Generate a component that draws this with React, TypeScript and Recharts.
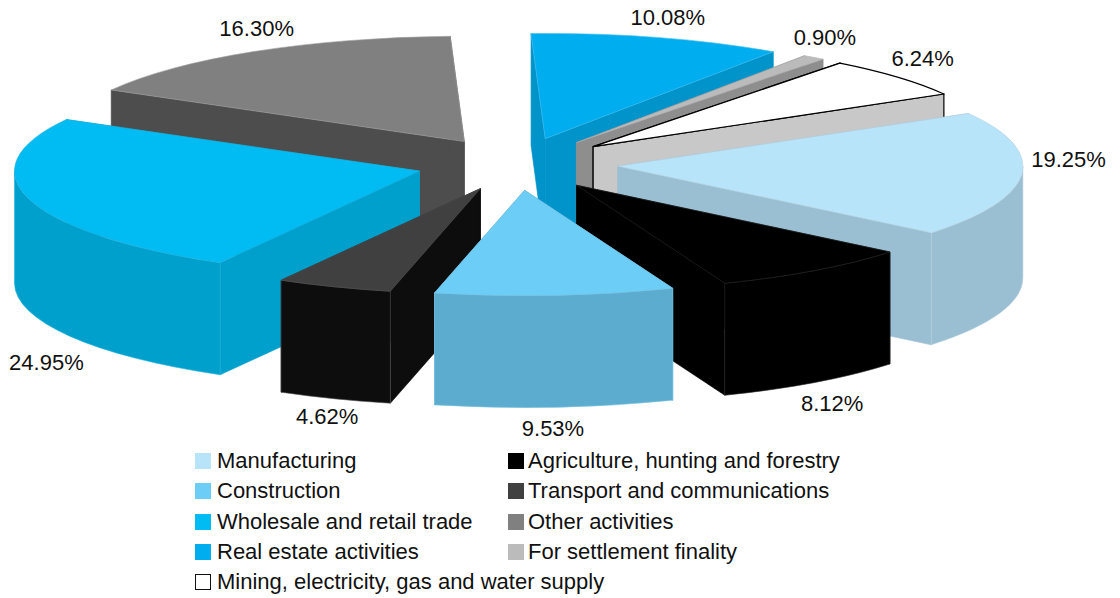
import React from "react";
import { PieChart, Pie, Legend } from "recharts";

const names = [
  "Manufacturing",
  "Agriculture, hunting and forestry",
  "Construction",
  "Transport and communications",
  "Wholesale and retail trade",
  "Other activities",
  "Real estate activities",
  "For settlement finality",
  "Mining, electricity, gas and water supply",
];
const shares = [19.25, 8.12, 9.53, 4.62, 24.95, 16.3, 10.08, 0.9, 6.24];
const topColors = ["#B8E4FA", "#000000", "#6CCDF6", "#404040", "#00BCF2", "#808080", "#00AEEF", "#BBBBBB", "#FFFFFF"];
const sideColors = ["#9ABFD2", "#000000", "#5BACCE", "#0D0D0D", "#00A0CD", "#4D4D4D", "#0094CB", "#8E8E8E", "#C8C8C8"];
const edgeColors = ["#B8D4E2", "#2A2A2A", "#7CC4E4", "#555555", "#20B0DC", "#A0A0A0", "#40BCEC", "#AAAAAA", "#000000"];
const legendColors = ["#B8E4FA", "#000000", "#6CCDF6", "#404040", "#00BCF2", "#808080", "#00AEEF", "#BBBBBB", "#FFFFFF"];
const paintOrder = [5, 6, 7, 8, 4, 0, 3, 1, 2];
const labelNudgeX = [47, 17, -2, -7, 17, 3, 10, 11, 25];
const labelNudgeY = [-15, 133, 133, 130, 163, -23, -20, -20, -19];

const SQUASH = 0.26;
const EXPLODE = 0.25;
const DEPTH = 112;
const FONT = '"Liberation Sans", Arial, sans-serif';

const data = names.map((name, i) => ({ name, value: shares[i] }));
const rad = (d: number) => (d * Math.PI) / 180;

function project(cx: number, cy: number, r: number, deg: number) {
  return { x: cx + r * Math.cos(rad(deg)), y: cy - r * SQUASH * Math.sin(rad(deg)) };
}

function Wedge({ p, i }: { p: any; i: number }) {
  const mid = (p.startAngle + p.endAngle) / 2;
  const r = p.outerRadius;
  const apex = project(p.cx, p.cy, r * EXPLODE, mid);
  const a = project(apex.x, apex.y, r, p.startAngle);
  const b = project(apex.x, apex.y, r, p.endAngle);
  const rx = r;
  const ry = r * SQUASH;
  const top = `M${apex.x},${apex.y}L${a.x},${a.y}A${rx},${ry} 0 0 1 ${b.x},${b.y}Z`;
  const wall = (q: { x: number; y: number }) =>
    `M${apex.x},${apex.y}L${q.x},${q.y}L${q.x},${q.y + DEPTH}L${apex.x},${apex.y + DEPTH}Z`;
  const lo = Math.max(p.endAngle, -180);
  const hi = Math.min(p.startAngle, 0);
  let side: string | null = null;
  if (hi > lo) {
    const s = project(apex.x, apex.y, r, hi);
    const e = project(apex.x, apex.y, r, lo);
    side = `M${s.x},${s.y}A${rx},${ry} 0 0 1 ${e.x},${e.y}L${e.x},${e.y + DEPTH}A${rx},${ry} 0 0 0 ${s.x},${s.y + DEPTH}Z`;
  }
  const sw = i === 8 ? 1.2 : 0.6;
  return (
    <g>
      <path d={wall(a)} fill={sideColors[i]} stroke={i === 8 ? edgeColors[i] : sideColors[i]} strokeWidth={sw} />
      <path d={wall(b)} fill={sideColors[i]} stroke={i === 8 ? edgeColors[i] : sideColors[i]} strokeWidth={sw} />
      {side && <path d={side} fill={sideColors[i]} stroke={edgeColors[i]} strokeWidth={0.6} />}
      <path d={top} fill={topColors[i]} stroke={edgeColors[i]} strokeWidth={sw} strokeLinejoin="round" />
    </g>
  );
}

function renderLabel(p: any) {
  const i = names.indexOf(p.name ?? p.payload?.name);
  const mid = p.midAngle;
  const apex = project(p.cx, p.cy, p.outerRadius * EXPLODE, mid);
  const o = project(apex.x, apex.y, p.outerRadius, mid);
  return (
    <text
      x={o.x + labelNudgeX[i]}
      y={o.y + labelNudgeY[i]}
      textAnchor="middle"
      dominantBaseline="central"
      fontFamily={FONT}
      fontSize={22}
      fill="#111111"
    >
      {shares[i].toFixed(2)}%
    </text>
  );
}

function LegendBlock() {
  return (
    <div
      style={{
        display: "grid",
        gridTemplateColumns: "313px 400px",
        gridAutoRows: "30.3px",
        fontFamily: FONT,
        fontSize: 22,
        color: "#111111",
      }}
    >
      {names.map((n, i) => (
        <div
          key={n}
          style={{
            display: "flex",
            alignItems: "center",
            whiteSpace: "nowrap",
            gridColumn: i === 8 ? "1 / span 2" : undefined,
          }}
        >
          <span
            style={{
              display: "inline-block",
              flexShrink: 0,
              boxSizing: "border-box",
              width: 16,
              height: 16,
              marginRight: i % 2 === 1 ? 4 : 6,
              background: legendColors[i],
              border: i === 8 ? "1px solid #111111" : "none",
            }}
          />
          {n}
        </div>
      ))}
    </div>
  );
}

export default function App() {
  return (
    <div style={{ position: "absolute", left: 0, top: 0, width: 1120, height: 598, background: "#fff" }}>
      <PieChart width={1120} height={598} margin={{ top: 0, right: 0, bottom: 0, left: 0 }}>
        {paintOrder.map((idx) => (
          <Pie
            key={idx}
            data={data}
            dataKey="value"
            nameKey="name"
            cx={517}
            cy={164}
            innerRadius={0}
            outerRadius={405}
            startAngle={30}
            endAngle={-330}
            paddingAngle={0}
            stroke="none"
            legendType="none"
            isAnimationActive={false}
            shape={(p: any) => {
              const i = names.indexOf(p.name ?? p.payload?.name);
              return i === idx ? <Wedge p={p} i={i} /> : <g />;
            }}
          />
        ))}
        <Pie
          data={data}
          dataKey="value"
          nameKey="name"
          cx={517}
          cy={164}
          innerRadius={0}
          outerRadius={405}
          startAngle={30}
          endAngle={-330}
          legendType="none"
          isAnimationActive={false}
          labelLine={false}
          label={renderLabel}
          shape={() => <g />}
        />
        <Legend
          content={() => <LegendBlock />}
          wrapperStyle={{ left: 195, top: 446, width: 720, bottom: "auto" }}
        />
      </PieChart>
    </div>
  );
}
